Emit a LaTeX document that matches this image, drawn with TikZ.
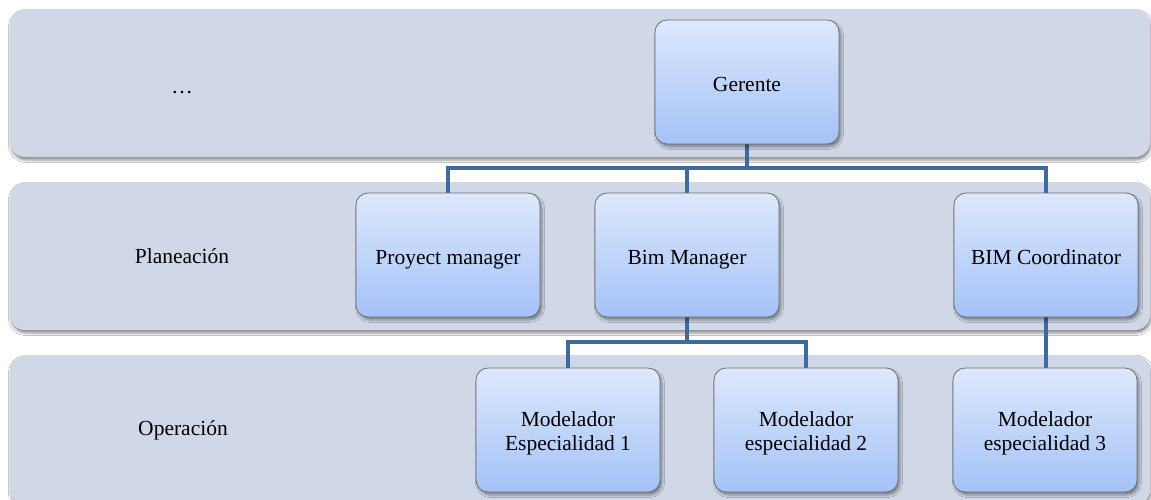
\documentclass[tikz,border=0pt]{standalone}
\usepackage{fontspec}
\setmainfont{Liberation Serif}
\usetikzlibrary{shadows.blur}
\definecolor{bandfill}{HTML}{D0D7E6}
\definecolor{boxtop}{HTML}{DDE8FC}
\definecolor{boxbot}{HTML}{A4C2F7}
\definecolor{boxline}{HTML}{6E6E72}
\definecolor{linkblue}{HTML}{40699C}
\tikzset{
  band/.style={fill=bandfill, draw=none, rounded corners=15pt,
    blur shadow={shadow xshift=1pt, shadow yshift=-3pt, shadow blur radius=2.5pt, shadow opacity=45}},
  role/.style={draw=boxline, line width=0.8pt, rounded corners=12pt,
    top color=boxtop, bottom color=boxbot,
    minimum width=184pt, minimum height=124pt, align=center,
    font=\fontsize{21.5}{24}\selectfont,
    blur shadow={shadow xshift=2pt, shadow yshift=-3pt, shadow blur radius=2.5pt, shadow opacity=40}},
  oneline/.style={text height=20pt, text depth=2pt},
  caption/.style={label={[align=center, yshift=-3pt, font=\fontsize{21.5}{24}\selectfont]center:#1}},
  tier/.style={font=\fontsize{21.5}{24}\selectfont},
  link/.style={draw=linkblue, line width=4.5pt, line join=miter, line cap=rect}
}
\begin{document}
\begin{tikzpicture}[x=1pt, y=-1pt]
  \clip (0,0) rectangle (1151,499);
  \fill[white] (0,0) rectangle (1151,499);

  % horizontal tiers
  \path[band] (10,9) rectangle (1150,157);
  \path[band] (10,182) rectangle (1150,330);
  \path[band] (10,355) rectangle (1150,505);

  \node[tier] (t1) at (182,93) {\ldots};
  \node[tier] (t2) at (182,256) {Planeación};
  \node[tier] (t3) at (183,430) {Operación};

  % junction points of the tree
  \coordinate (j1) at (747,168);
  \coordinate (j2) at (687,342);

  % connectors
  \draw[link] (747,144) -- (j1);
  \draw[link] (448,193) |- (j1) -| (1046,193);
  \draw[link] (687,168) -- (687,193);
  \draw[link] (687,317) -- (j2);
  \draw[link] (568,367) |- (j2) -| (806,367);
  \draw[link] (1046,317) -- (1046,367);

  % roles
  \node[role, oneline] (ger) at (747,82) {Gerente};
  \node[role, oneline] (pm) at (448,255) {Proyect manager};
  \node[role, oneline] (bim) at (687,255) {Bim Manager};
  \node[role, oneline] (bimc) at (1046,255) {BIM Coordinator};
  \node[role, caption={Modelador\\Especialidad 1}] (m1) at (568,430) {};
  \node[role, caption={Modelador\\especialidad 2}] (m2) at (806,430) {};
  \node[role, caption={Modelador\\especialidad 3}] (m3) at (1045,430) {};
\end{tikzpicture}
\end{document}
